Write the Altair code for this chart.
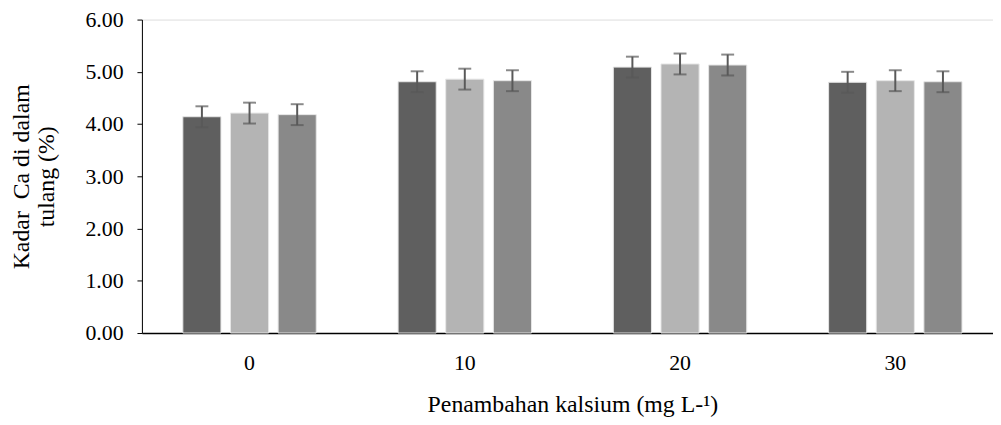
import altair as alt
import pandas as pd

categories = ["0", "10", "20", "30"]
series = ["A", "B", "C"]
values_a = [4.14, 4.81, 5.09, 4.80]
values_b = [4.21, 4.86, 5.15, 4.83]
values_c = [4.18, 4.83, 5.13, 4.81]
errors_a = [0.20, 0.20, 0.20, 0.20]
errors_b = [0.20, 0.20, 0.20, 0.20]
errors_c = [0.20, 0.20, 0.20, 0.20]
colors = ["#5f5f5f", "#b4b4b4", "#898989"]

rows = []
for s, vals, errs in zip(series, [values_a, values_b, values_c], [errors_a, errors_b, errors_c]):
    for c, v, e in zip(categories, vals, errs):
        rows.append({"cat": c, "series": s, "value": v, "lo": v - e, "hi": v + e})
df = pd.DataFrame(rows)

FONT = "Liberation Serif"
FS = 22
TS = 24

x = alt.X("cat:N", sort=categories,
          scale=alt.Scale(paddingInner=0.336, paddingOuter=0.168, range=[0, 868]),
          axis=alt.Axis(title="Penambahan kalsium (mg L-\u00b9)", labelAngle=0, ticks=False,
                        domainColor="black", domainWidth=1.5, labelPadding=20,
                        titlePadding=19, labelFontSize=FS, titleFontSize=TS,
                        labelFont=FONT, titleFont=FONT, titleFontWeight="normal",
                        labelColor="black", titleColor="black"))
xo = alt.XOffset("series:N", sort=series, scale=alt.Scale(paddingInner=0.2, paddingOuter=0.1))
color = alt.Color("series:N", sort=series, scale=alt.Scale(domain=series, range=colors), legend=None)

base = alt.Chart(df)

bars = base.mark_bar(stroke="#e6e6e6", strokeWidth=1).encode(
    x=x, xOffset=xo, color=color,
    y=alt.Y("value:Q", scale=alt.Scale(domain=[0, 6], nice=False),
            axis=alt.Axis(title=["Kadar\u00a0 Ca di dalam", "tulang (%)"], values=[0, 1, 2, 3, 4, 5, 6],
                          format=".2f", grid=False, tickSize=5, tickColor="black",
                          domainColor="black", domainWidth=1, labelPadding=14,
                          titlePadding=27, labelFontSize=FS, titleFontSize=TS,
                          labelFont=FONT, titleFont=FONT, titleFontWeight="normal",
                          labelFontWeight="normal",
                          labelColor="black", titleColor="black", titleLineHeight=25)),
)

rules = base.mark_rule(color="#595959", strokeWidth=2).encode(
    x=x, xOffset=xo, y="lo:Q", y2="hi:Q")
caps_hi = base.mark_tick(color="#595959", thickness=2, size=13, orient="horizontal").encode(
    x=x, xOffset=xo, y="hi:Q")
caps_lo = base.mark_tick(color="#595959", thickness=2, size=13, orient="horizontal").encode(
    x=x, xOffset=xo, y="lo:Q")

chart = alt.layer(bars, rules, caps_hi, caps_lo).properties(
    width=858, height=316,
    autosize=alt.AutoSizeParams(type="none"),
    padding={"left": 135, "top": 10, "right": 0, "bottom": 85},
).configure_view(stroke=None).configure(background="white")

chart.save("out.html", embed_options={"renderer": "svg", "actions": False})
